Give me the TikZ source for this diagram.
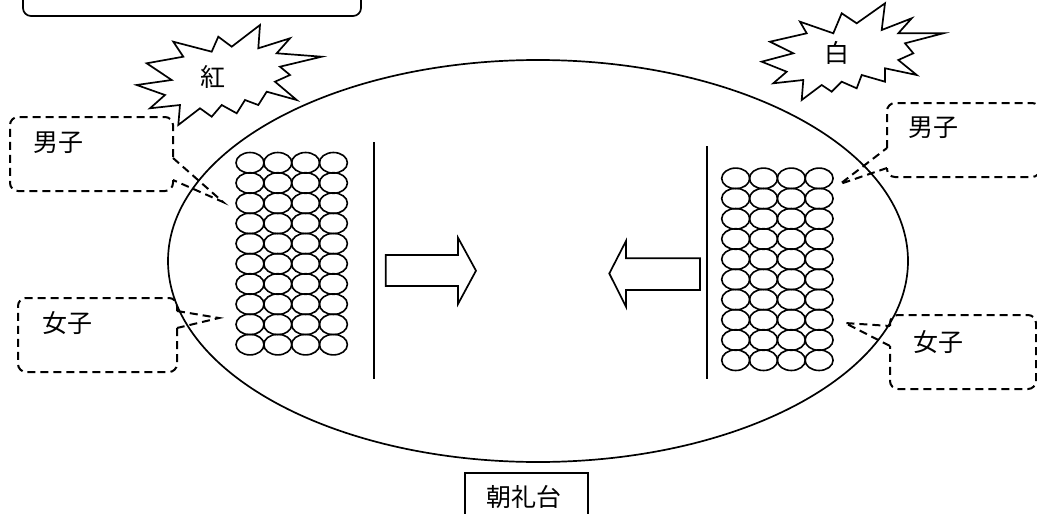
\documentclass[tikz,border=0pt]{standalone}
\usepackage{fontspec}
\newfontfamily\jp{Noto Sans CJK JP}
\begin{document}
\begin{tikzpicture}[x=1pt,y=-1pt,
  thinline/.style={line width=1.7pt},
  callout/.style={line width=2pt, dash pattern=on 8pt off 5pt},
  lbl/.style={font=\jp\fontsize{25}{27}\selectfont, inner sep=0pt},
  burst/.style={line width=1.7pt, fill=white, line join=miter},
  blockarrow/.style={line width=1.7pt, fill=white, line join=miter},
  person/.style={line width=1.6pt}]
\useasboundingbox (0,0) rectangle (1037,514);
\clip (0,0) rectangle (1037,514);
\fill[white] (0,0) rectangle (1037,514);

% top-left box (cut off)
\draw[thinline, rounded corners=8pt] (23,-50) rectangle (361,16);

% field
\draw[thinline] (538,261) ellipse [x radius=370pt, y radius=201pt];

% groups
\foreach \i in {0,...,9}
  \foreach \j in {0,...,3} {
    \draw[person] (250+27.8*\j, 162.8+20.2*\i) ellipse [x radius=14pt, y radius=10.3pt];
    \draw[person] (735.7+27.8*\j, 178.4+20.2*\i) ellipse [x radius=14pt, y radius=10.3pt];
  }

% dividing lines
\coordinate (l1) at (374,142);
\coordinate (l2) at (374,379);
\coordinate (r1) at (707,146);
\coordinate (r2) at (707,379);
\draw[line width=2pt] (l1) -- (l2);
\draw[line width=2pt] (r1) -- (r2);

% block arrows
\draw[blockarrow] (385.7,255) -- (458,255) -- (458,237.7) -- (476,270.7) -- (458,304) -- (458,286) -- (385.7,286) -- cycle;
\draw[blockarrow] (700,258.3) -- (626,258.3) -- (626,241) -- (609.3,273.5) -- (626,306.7) -- (626,290) -- (700,290) -- cycle;

% bursts
\draw[burst] (173.3,41.7) -- (183.3,56.7) -- (146.7,63.3) -- (171.7,80) -- (136.7,85) -- (165,95) -- (150,108.3) -- (180,105) -- (178.3,125) -- (200,108.3) -- (211.7,116.7) -- (221.7,105) -- (236.7,113.3) -- (245,100) -- (258.3,105) -- (266.7,91.7) -- (296.7,100) -- (275,81.7) -- (290,75) -- (280,66.7) -- (321.7,56.7) -- (276.7,53.3) -- (290,38.3) -- (258.3,48.3) -- (260,25) -- (231.7,46.7) -- (218.3,36.7) -- (211.7,51.7) -- cycle;
\node[lbl] (beni) at (213,77) {紅};

\draw[burst] (800,21.7) -- (806.7,33.3) -- (770,41.7) -- (793.3,53.3) -- (761.7,61.7) -- (786.7,71.7) -- (773.3,83.3) -- (803.3,80) -- (801.7,100) -- (821.7,85) -- (831.7,91.7) -- (841.7,81.7) -- (856.7,88.3) -- (861.7,75) -- (885,81.7) -- (885,68.3) -- (916.7,75) -- (898.3,60) -- (913.3,53.3) -- (905,43.3) -- (943.3,33.3) -- (898.3,33.3) -- (911.7,18.3) -- (881.7,30) -- (885,3.3) -- (856.7,23.3) -- (841.7,13.3) -- (833.3,33.3) -- cycle;
\node[lbl] (shiro) at (837,53) {白};

% callouts: left boys
\draw[callout, rounded corners=8pt] (173,180) -- (173,191) -- (10,191) -- (10,117) -- (173,117) -- (173,158);
\draw[callout] (173,158) -- (223,202) -- (173,180);
\node[lbl] (lboys) at (58,143) {男子};

% left girls
\draw[callout, rounded corners=8pt] (177,328) -- (177,372) -- (18,372) -- (18,298) -- (177,298) -- (177,311);
\draw[callout] (177,311) -- (219,318) -- (177,328);
\node[lbl] (lgirls) at (67,323) {女子};

% right boys
\draw[callout, rounded corners=8pt] (887,148) -- (887,103) -- (1040,103) -- (1040,177) -- (887,177) -- (887,168);
\draw[callout] (887,168) -- (840,184) -- (887,148);
\node[lbl] (rboys) at (933,128) {男子};

% right girls
\draw[callout, rounded corners=8pt] (890,326) -- (890,315) -- (1036,315) -- (1036,389) -- (890,389) -- (890,346);
\draw[callout] (890,346) -- (845,323) -- (890,326);
\node[lbl] (rgirls) at (938,342) {女子};

% stand
\draw[line width=1.4pt] (465,530) -- (465,473) -- (588,473) -- (588,530);
\node[lbl] (stand) at (524,497) {朝礼台};
\end{tikzpicture}
\end{document}
